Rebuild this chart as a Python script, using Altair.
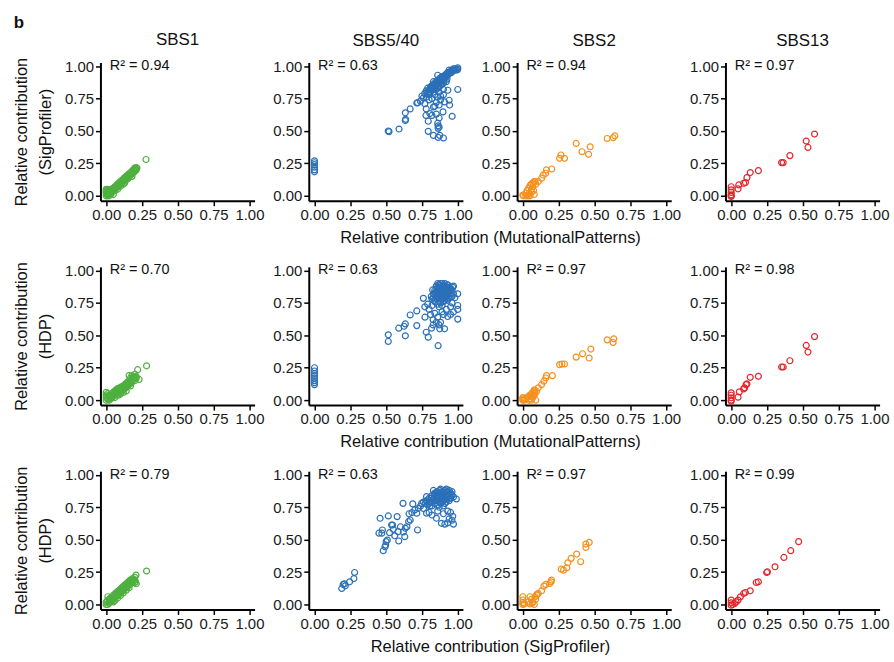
import altair as alt
import pandas as pd

FONT = "Liberation Sans"

# ---------------- data ----------------
signatures = ["SBS1", "SBS5/40", "SBS2", "SBS13"]
colors = ["#4eb03f", "#2b70b8", "#f4901e", "#e3262b"]
tick_values = [0, 0.25, 0.5, 0.75, 1.0]
x_titles = ["Relative contribution (MutationalPatterns)",
            "Relative contribution (MutationalPatterns)",
            "Relative contribution (SigProfiler)"]
y_titles = [["Relative contribution", "(SigProfiler)"],
            ["Relative contribution", "(HDP)"],
            ["Relative contribution", "(HDP)"]]
r2_row1 = ["0.94", "0.63", "0.94", "0.97"]
r2_row2 = ["0.70", "0.63", "0.97", "0.98"]
r2_row3 = ["0.79", "0.63", "0.97", "0.99"]

# Row 1: x = MutationalPatterns, y = SigProfiler
sbs1_mp_sp = [(0, 0), (0, 0.02), (0, 0.04), (0, 0.05), (0.005, 0.01), (0.01, 0.0), (0.01, 0.03), (0.01, 0.05),
              (0.02, 0.01), (0.02, 0.04), (0.03, 0.02), (0.035, 0.015), (0.04, 0.03), (0.04, 0.05), (0.05, 0.04),
              (0.05, 0.06), (0.06, 0.05), (0.06, 0.07), (0.07, 0.06), (0.07, 0.08), (0.08, 0.07), (0.08, 0.09),
              (0.09, 0.08), (0.09, 0.10), (0.10, 0.09), (0.10, 0.11), (0.11, 0.10), (0.11, 0.12), (0.12, 0.11),
              (0.12, 0.13), (0.13, 0.12), (0.13, 0.14), (0.14, 0.13), (0.14, 0.15), (0.15, 0.14), (0.15, 0.16),
              (0.16, 0.15), (0.16, 0.17), (0.17, 0.16), (0.17, 0.18), (0.18, 0.17), (0.18, 0.19), (0.19, 0.18),
              (0.19, 0.20), (0.20, 0.19), (0.20, 0.21), (0.21, 0.20), (0.215, 0.215), (0.278, 0.28), (0.02, 0.0),
              (0.05, 0.01), (0.08, 0.05), (0.12, 0.09), (0.15, 0.13), (0.18, 0.15),
              (0.03, 0.045), (0.045, 0.035), (0.055, 0.05), (0.065, 0.06), (0.075, 0.065), (0.085, 0.08),
              (0.095, 0.09), (0.105, 0.095), (0.115, 0.11), (0.125, 0.12), (0.135, 0.125), (0.145, 0.14),
              (0.155, 0.15), (0.165, 0.16), (0.175, 0.165), (0.185, 0.18), (0.195, 0.19), (0.205, 0.20),
              (0.21, 0.215), (0.20, 0.215), (0.06, 0.04), (0.10, 0.075), (0.13, 0.10), (0.0, 0.03),
              (0.005, 0.045), (0.015, 0.02)]
sbs5_mp_sp = [(0, 0.27), (0, 0.255), (0, 0.24), (0, 0.22), (0, 0.20), (0, 0.185),
              (0.515, 0.50), (0.52, 0.495), (0.59, 0.515), (0.634, 0.58), (0.636, 0.59), (0.634, 0.64),
              (0.668, 0.67), (0.714, 0.716), (0.72, 0.718), (0.76, 0.755), (0.77, 0.71), (0.78, 0.67),
              (0.805, 0.634), (0.778, 0.62), (0.82, 0.62), (0.83, 0.685), (0.794, 0.575), (0.794, 0.497),
              (0.83, 0.466), (0.863, 0.54), (0.863, 0.52), (0.87, 0.53), (0.874, 0.466), (0.863, 0.45),
              (0.90, 0.446), (0.897, 0.647), (0.908, 0.724), (0.943, 0.70), (0.94, 0.737), (0.931, 0.814),
              (0.961, 0.613), (1.0, 0.82), (1.0, 0.977), (1.0, 0.987), (0.995, 0.97),
              (0.77, 0.79), (0.78, 0.81), (0.79, 0.80), (0.79, 0.83), (0.80, 0.82), (0.80, 0.78), (0.81, 0.84),
              (0.81, 0.80), (0.82, 0.85), (0.82, 0.82), (0.83, 0.86), (0.83, 0.83), (0.83, 0.80), (0.84, 0.87),
              (0.84, 0.84), (0.84, 0.78), (0.85, 0.88), (0.85, 0.85), (0.85, 0.82), (0.86, 0.89), (0.86, 0.86),
              (0.86, 0.83), (0.86, 0.76), (0.87, 0.90), (0.87, 0.87), (0.87, 0.84), (0.87, 0.80), (0.88, 0.91),
              (0.88, 0.88), (0.88, 0.85), (0.88, 0.77), (0.89, 0.92), (0.89, 0.89), (0.89, 0.86), (0.90, 0.92),
              (0.90, 0.90), (0.90, 0.87), (0.90, 0.82), (0.91, 0.93), (0.91, 0.91), (0.92, 0.94), (0.92, 0.92),
              (0.92, 0.88), (0.93, 0.95), (0.93, 0.93), (0.94, 0.95), (0.94, 0.97), (0.95, 0.96), (0.96, 0.97),
              (0.97, 0.97), (0.97, 0.98), (0.98, 0.98), (0.83, 0.88), (0.86, 0.93), (0.80, 0.74), (0.82, 0.75),
              (0.85, 0.72), (0.88, 0.74), (0.84, 0.69), (0.87, 0.70), (0.90, 0.78), (0.78, 0.76), (0.75, 0.77),
              (0.74, 0.73), (0.85, 0.63), (0.87, 0.60), (0.86, 0.56),
              (0.815, 0.83), (0.835, 0.85), (0.855, 0.87), (0.875, 0.89), (0.895, 0.91), (0.915, 0.92),
              (0.935, 0.94), (0.955, 0.95), (0.965, 0.96), (0.985, 0.97), (0.845, 0.82), (0.865, 0.84),
              (0.885, 0.86), (0.905, 0.89), (0.925, 0.90), (0.80, 0.80), (0.79, 0.79)]
sbs2_mp_sp = [(0.372, 0.404), (0.413, 0.34), (0.47, 0.378), (0.459, 0.32), (0.589, 0.442), (0.63, 0.448),
              (0.642, 0.463), (0.266, 0.315), (0.257, 0.289), (0.291, 0.289), (0.202, 0.207), (0.165, 0.20),
              (0.16, 0.174), (0.142, 0.16), (0.131, 0.136), (0.108, 0.11), (0.085, 0.11),
              (0, 0.005), (0.005, 0.0), (0.02, 0.02), (0.03, 0.04), (0.04, 0.06), (0.05, 0.08), (0.06, 0.09),
              (0.07, 0.07), (0.06, 0.03), (0.08, 0.01), (0.05, 0.0), (0.04, 0.0), (0.03, 0.0), (0.07, 0.10),
              (0.08, 0.11), (0.09, 0.09), (0.06, 0.05), (0.075, 0.04), (0.02, 0.0), (0.045, 0.02)]
sbs13_mp_sp = [(0.582, 0.476), (0.524, 0.422), (0.536, 0.373), (0.41, 0.31), (0.363, 0.256), (0.352, 0.256),
               (0.19, 0.194), (0.133, 0.179), (0.11, 0.14), (0.1, 0.102), (0.087, 0.097), (0.053, 0.084),
               (0.048, 0.054), (0, 0.07), (0, 0.046), (0, 0.026), (0, 0.008), (0, -0.005), (0, 0.0)]

# Row 2: x = MutationalPatterns, y = HDP
sbs1_mp_hdp = [(0, 0.0), (0, 0.02), (0, 0.04), (0, 0.06), (0.005, 0.03), (0.01, 0.01), (0.01, 0.05), (0.02, 0.0),
               (0.02, 0.03), (0.03, 0.01), (0.03, 0.04), (0.04, 0.02), (0.04, 0.05), (0.05, 0.03), (0.05, 0.06),
               (0.06, 0.04), (0.06, 0.07), (0.07, 0.05), (0.07, 0.08), (0.08, 0.04), (0.08, 0.07), (0.08, 0.09),
               (0.09, 0.06), (0.09, 0.09), (0.10, 0.05), (0.10, 0.08), (0.10, 0.10), (0.11, 0.07), (0.11, 0.10),
               (0.12, 0.08), (0.12, 0.11), (0.13, 0.09), (0.13, 0.12), (0.14, 0.10), (0.14, 0.13), (0.15, 0.11),
               (0.15, 0.14), (0.16, 0.12), (0.16, 0.15), (0.17, 0.13), (0.17, 0.17), (0.18, 0.14), (0.18, 0.19),
               (0.19, 0.16), (0.19, 0.18), (0.20, 0.15), (0.20, 0.20), (0.21, 0.17), (0.23, 0.16), (0.21, 0.18),
               (0.22, 0.235), (0.282, 0.265), (0.14, 0.07), (0.06, 0.02), (0.16, 0.19),
               (0.025, 0.02), (0.045, 0.04), (0.055, 0.045), (0.065, 0.055), (0.075, 0.07), (0.085, 0.06),
               (0.095, 0.075), (0.105, 0.085), (0.115, 0.09), (0.125, 0.10), (0.135, 0.11), (0.145, 0.12),
               (0.155, 0.13), (0.165, 0.14), (0.175, 0.15), (0.185, 0.16), (0.12, 0.06), (0.09, 0.04),
               (0.20, 0.18), (0.17, 0.11)]
sbs5_mp_hdp = [(0, 0.25), (0, 0.225), (0, 0.205), (0, 0.19), (0, 0.17), (0, 0.15), (0, 0.135), (0, 0.12),
               (0.515, 0.504), (0.515, 0.453), (0.588, 0.555), (0.634, 0.588), (0.634, 0.496), (0.625, 0.57),
               (0.668, 0.657), (0.714, 0.575), (0.714, 0.688), (0.76, 0.785), (0.771, 0.64), (0.78, 0.524),
               (0.794, 0.486), (0.817, 0.555), (0.828, 0.58), (0.863, 0.42), (0.874, 0.55), (0.908, 0.55),
               (0.828, 0.62), (0.93, 0.645), (0.95, 0.66), (1.0, 0.82), (1.0, 0.73), (1.0, 0.70), (1.0, 0.625),
               (0.80, 0.70), (0.84, 0.67), (0.86, 0.64), (0.88, 0.60), (0.90, 0.66), (0.92, 0.70), (0.95, 0.72),
               (0.97, 0.68), (0.96, 0.75), (0.79, 0.74), (0.77, 0.72), (0.81, 0.66), (0.85, 0.60), (0.87, 0.58),
               (0.89, 0.68),
               (0.82, 0.78), (0.83, 0.82), (0.84, 0.76), (0.84, 0.85), (0.85, 0.80), (0.85, 0.88), (0.86, 0.74),
               (0.86, 0.83), (0.87, 0.78), (0.87, 0.86), (0.87, 0.89), (0.88, 0.81), (0.88, 0.75), (0.88, 0.87),
               (0.89, 0.84), (0.89, 0.78), (0.89, 0.90), (0.90, 0.82), (0.90, 0.86), (0.90, 0.76), (0.91, 0.88),
               (0.91, 0.80), (0.91, 0.84), (0.92, 0.83), (0.92, 0.87), (0.92, 0.78), (0.93, 0.85), (0.93, 0.81),
               (0.93, 0.89), (0.94, 0.84), (0.94, 0.87), (0.94, 0.79), (0.95, 0.86), (0.95, 0.82), (0.96, 0.85),
               (0.96, 0.80), (0.83, 0.79), (0.86, 0.79), (0.88, 0.84), (0.90, 0.89), (0.91, 0.77), (0.89, 0.73),
               (0.86, 0.87), (0.85, 0.84), (0.84, 0.81), (0.97, 0.82), (0.97, 0.88), (0.82, 0.73), (0.98, 0.79),
               (0.815, 0.80), (0.825, 0.85), (0.835, 0.77), (0.845, 0.83), (0.855, 0.78), (0.855, 0.86),
               (0.865, 0.81), (0.865, 0.89), (0.875, 0.76), (0.875, 0.83), (0.885, 0.79), (0.885, 0.86),
               (0.895, 0.81), (0.895, 0.88), (0.905, 0.79), (0.905, 0.85), (0.915, 0.82), (0.915, 0.86),
               (0.925, 0.80), (0.925, 0.89), (0.935, 0.83), (0.945, 0.86), (0.955, 0.80), (0.955, 0.84),
               (0.965, 0.87), (0.88, 0.90), (0.91, 0.90), (0.86, 0.90), (0.93, 0.77), (0.87, 0.72)]
sbs2_mp_hdp = [(0.589, 0.465), (0.635, 0.473), (0.63, 0.445), (0.475, 0.394), (0.417, 0.358), (0.372, 0.332),
               (0.463, 0.325), (0.257, 0.274), (0.273, 0.279), (0.291, 0.279), (0.206, 0.189), (0.165, 0.189),
               (0.16, 0.171), (0.147, 0.146), (0.131, 0.12), (0.108, 0.095), (0.096, 0.069),
               (0, 0), (0, 0.01), (0, 0.02), (0.01, 0.0), (0.02, 0.01), (0.03, 0.02), (0.04, 0.03), (0.05, 0.04),
               (0.06, 0.05), (0.07, 0.06), (0.08, 0.07), (0.085, 0.05), (0.07, 0.02), (0.06, 0.0), (0.05, 0.01),
               (0.09, 0.0), (0.075, 0.04), (0.065, 0.03), (0.04, 0.0), (0.08, 0.08)]
sbs13_mp_hdp = [(0.582, 0.49), (0.524, 0.422), (0.536, 0.371), (0.41, 0.304), (0.363, 0.256), (0.352, 0.256),
                (0.19, 0.184), (0.133, 0.176), (0.11, 0.125), (0.104, 0.12), (0.094, 0.095), (0.087, 0.087),
                (0.057, 0.064), (0.048, 0.023), (0, 0.056), (0, 0.038), (0, 0.018), (0, 0.0), (0, -0.008)]

# Row 3: x = SigProfiler, y = HDP
sbs1_sp_hdp = [(0, 0), (0, 0.02), (0.01, 0.0), (0.01, 0.03), (0.02, 0.01), (0.02, 0.04), (0.012, 0.06),
               (0.03, 0.02), (0.03, 0.05), (0.04, 0.03), (0.04, 0.06), (0.05, 0.04), (0.05, 0.07), (0.06, 0.05),
               (0.06, 0.08), (0.07, 0.06), (0.07, 0.09), (0.08, 0.07), (0.08, 0.10), (0.09, 0.08), (0.09, 0.11),
               (0.10, 0.09), (0.10, 0.12), (0.11, 0.10), (0.11, 0.13), (0.12, 0.11), (0.12, 0.14), (0.13, 0.12),
               (0.13, 0.15), (0.14, 0.13), (0.14, 0.16), (0.15, 0.14), (0.15, 0.17), (0.16, 0.15), (0.16, 0.18),
               (0.17, 0.16), (0.17, 0.19), (0.18, 0.17), (0.18, 0.19), (0.19, 0.18), (0.20, 0.17), (0.20, 0.19),
               (0.21, 0.16), (0.204, 0.175), (0.208, 0.227), (0.282, 0.258), (0.05, 0.02), (0.10, 0.07),
               (0.14, 0.11),
               (0.025, 0.03), (0.035, 0.035), (0.045, 0.045), (0.055, 0.055), (0.065, 0.065), (0.075, 0.075),
               (0.085, 0.085), (0.095, 0.095), (0.105, 0.105), (0.115, 0.115), (0.125, 0.125), (0.135, 0.135),
               (0.145, 0.145), (0.155, 0.155), (0.165, 0.165), (0.175, 0.175), (0.06, 0.03), (0.08, 0.05),
               (0.12, 0.09), (0.16, 0.13), (0.185, 0.20), (0.20, 0.21)]
sbs5_sp_hdp = [(0.19, 0.124), (0.20, 0.155), (0.215, 0.144), (0.245, 0.175), (0.275, 0.20), (0.28, 0.247),
               (0.21, 0.16),
               (0.458, 0.665), (0.515, 0.683), (0.577, 0.678), (0.618, 0.78), (0.45, 0.55), (0.474, 0.575),
               (0.47, 0.55), (0.48, 0.415), (0.497, 0.459), (0.50, 0.485), (0.508, 0.497), (0.492, 0.446),
               (0.524, 0.554), (0.538, 0.613), (0.545, 0.613), (0.584, 0.562), (0.588, 0.49), (0.63, 0.523),
               (0.634, 0.588), (0.645, 0.60), (0.657, 0.64), (0.668, 0.652), (0.68, 0.709), (0.719, 0.575),
               (0.714, 0.704), (0.725, 0.742), (0.748, 0.78), (0.686, 0.776), (0.782, 0.832), (0.851, 0.665),
               (0.886, 0.626), (0.93, 0.63), (0.94, 0.66), (0.96, 0.65), (0.965, 0.68), (0.95, 0.71),
               (0.99, 0.814), (0.782, 0.704), (0.80, 0.71), (0.76, 0.74), (0.70, 0.73), (0.74, 0.76), (0.66, 0.70),
               (0.60, 0.60), (0.62, 0.56), (0.56, 0.53), (0.55, 0.58), (0.82, 0.69), (0.86, 0.72), (0.90, 0.70),
               (0.93, 0.72), (0.97, 0.62), (0.91, 0.62),
               (0.76, 0.79), (0.78, 0.80), (0.79, 0.77), (0.80, 0.82), (0.81, 0.79), (0.82, 0.84), (0.82, 0.76),
               (0.83, 0.81), (0.84, 0.86), (0.84, 0.78), (0.85, 0.83), (0.85, 0.80), (0.86, 0.87), (0.86, 0.77),
               (0.87, 0.84), (0.87, 0.81), (0.88, 0.86), (0.88, 0.78), (0.88, 0.89), (0.89, 0.83), (0.89, 0.80),
               (0.90, 0.87), (0.90, 0.84), (0.90, 0.76), (0.91, 0.82), (0.91, 0.88), (0.92, 0.85), (0.92, 0.79),
               (0.93, 0.87), (0.93, 0.83), (0.94, 0.85), (0.94, 0.80), (0.95, 0.86), (0.95, 0.82), (0.96, 0.84),
               (0.83, 0.88), (0.86, 0.84), (0.80, 0.78), (0.87, 0.75), (0.89, 0.87), (0.91, 0.78), (0.94, 0.88),
               (0.97, 0.83), (0.85, 0.86),
               (0.775, 0.78), (0.795, 0.81), (0.805, 0.76), (0.815, 0.82), (0.825, 0.79), (0.835, 0.85),
               (0.845, 0.80), (0.855, 0.87), (0.865, 0.82), (0.875, 0.88), (0.875, 0.79), (0.885, 0.84),
               (0.895, 0.86), (0.905, 0.81), (0.915, 0.85), (0.925, 0.87), (0.925, 0.81), (0.935, 0.84),
               (0.945, 0.82), (0.955, 0.85), (0.88, 0.82), (0.90, 0.80), (0.86, 0.80), (0.92, 0.89), (0.96, 0.87)]
sbs2_sp_hdp = [(0.463, 0.479), (0.44, 0.466), (0.44, 0.44), (0.376, 0.389), (0.337, 0.356), (0.314, 0.322),
               (0.404, 0.33), (0.268, 0.273), (0.284, 0.265), (0.307, 0.283), (0.20, 0.188), (0.197, 0.175),
               (0.188, 0.162), (0.16, 0.155), (0.147, 0.142), (0.131, 0.106), (0.108, 0.085), (0.096, 0.072),
               (0, 0.06), (0, 0.035), (0, 0.015), (0, 0.0), (0.01, 0.005), (0.05, 0.06), (0.06, 0.04),
               (0.07, 0.02), (0.085, 0.06), (0.05, 0.005), (0.08, 0.0), (0.04, 0.02), (0.09, 0.04), (0.065, 0.01),
               (0.10, 0.08)]
sbs13_sp_hdp = [(0.471, 0.485), (0.416, 0.415), (0.368, 0.363), (0.306, 0.291), (0.248, 0.247), (0.253, 0.253),
                (0.19, 0.175), (0.175, 0.17), (0.133, 0.106), (0.099, 0.093), (0.087, 0.085), (0.064, 0.059),
                (0.048, 0.034), (0.025, 0.008), (0.034, 0.02), (0, 0.034), (0, 0.013), (0, -0.005), (0.01, 0.0)]

rows = [
    [sbs1_mp_sp, sbs5_mp_sp, sbs2_mp_sp, sbs13_mp_sp],
    [sbs1_mp_hdp, sbs5_mp_hdp, sbs2_mp_hdp, sbs13_mp_hdp],
    [sbs1_sp_hdp, sbs5_sp_hdp, sbs2_sp_hdp, sbs13_sp_hdp],
]
r2_rows = [r2_row1, r2_row2, r2_row3]

# ---------------- layout ----------------
PW, PH = 155, 139
HSPACE, VSPACE = 54.5, 66.5
X_DOMAIN = [-0.04, 1.036]
Y_DOMAIN = [-0.038, 1.028]


def panel(pts, color, r2, r, c):
    df = pd.DataFrame(pts, columns=["x", "y"])
    if c == 1:
        xax = alt.Axis(values=tick_values, format=".2f", title=x_titles[r],
                       titleX=PW + HSPACE / 2, titleY=37, titleAlign="center", titleBaseline="middle")
    else:
        xax = alt.Axis(values=tick_values, format=".2f", title=None)
    if c == 0:
        yax = alt.Axis(values=tick_values, format=".2f", title=y_titles[r], titlePadding=11,
                       titleLineHeight=24)
    else:
        yax = alt.Axis(values=tick_values, format=".2f", title=None)
    xsc = alt.Scale(domain=X_DOMAIN, nice=False, zero=False)
    ysc = alt.Scale(domain=Y_DOMAIN, nice=False, zero=False)
    pts_layer = alt.Chart(df).mark_point(filled=False, size=36, strokeWidth=1.2, color=color,
                                         opacity=1).encode(
        x=alt.X("x:Q", scale=xsc, axis=xax),
        y=alt.Y("y:Q", scale=ysc, axis=yax),
    )
    lab = pd.DataFrame({"x": [0.025], "y": [1.0], "t": ["R\u00b2 = " + r2]})
    txt = alt.Chart(lab).mark_text(align="left", baseline="middle", font=FONT, fontSize=14.5,
                                   color="#111111").encode(
        x=alt.X("x:Q", scale=xsc, axis=xax), y=alt.Y("y:Q", scale=ysc, axis=yax), text="t:N")
    props = dict(width=PW, height=PH)
    if r == 0:
        props["title"] = alt.TitleParams(signatures[c], font=FONT, fontSize=17, fontWeight="normal",
                                         anchor="middle", frame="group", offset=8, color="#111111")
    return alt.layer(pts_layer, txt).properties(**props)


panels = [panel(rows[r][c], colors[c], r2_rows[r][c], r, c) for r in range(3) for c in range(4)]

chart = alt.concat(*panels, columns=4, spacing={"row": VSPACE, "column": HSPACE}, bounds="flush").properties(
    title=alt.TitleParams("b", font=FONT, fontSize=17, fontWeight="bold", anchor="start", offset=-1,
                          color="#111111"),
    padding={"left": 13, "top": 12, "right": 5, "bottom": 5},
    background="white",
).configure_view(stroke=None).configure_axis(
    grid=False, domainColor="black", domainWidth=2, tickColor="black", tickWidth=1.5, tickSize=5,
    labelFont=FONT, labelFontSize=15, labelColor="#1a1a1a", labelPadding=2, labelFlush=False,
    labelOverlap=False, titleFont=FONT, titleFontSize=16.5, titleFontWeight="normal", titleColor="#111111",
)

chart.save("out.html", embed_options={"renderer": "svg", "actions": False})
